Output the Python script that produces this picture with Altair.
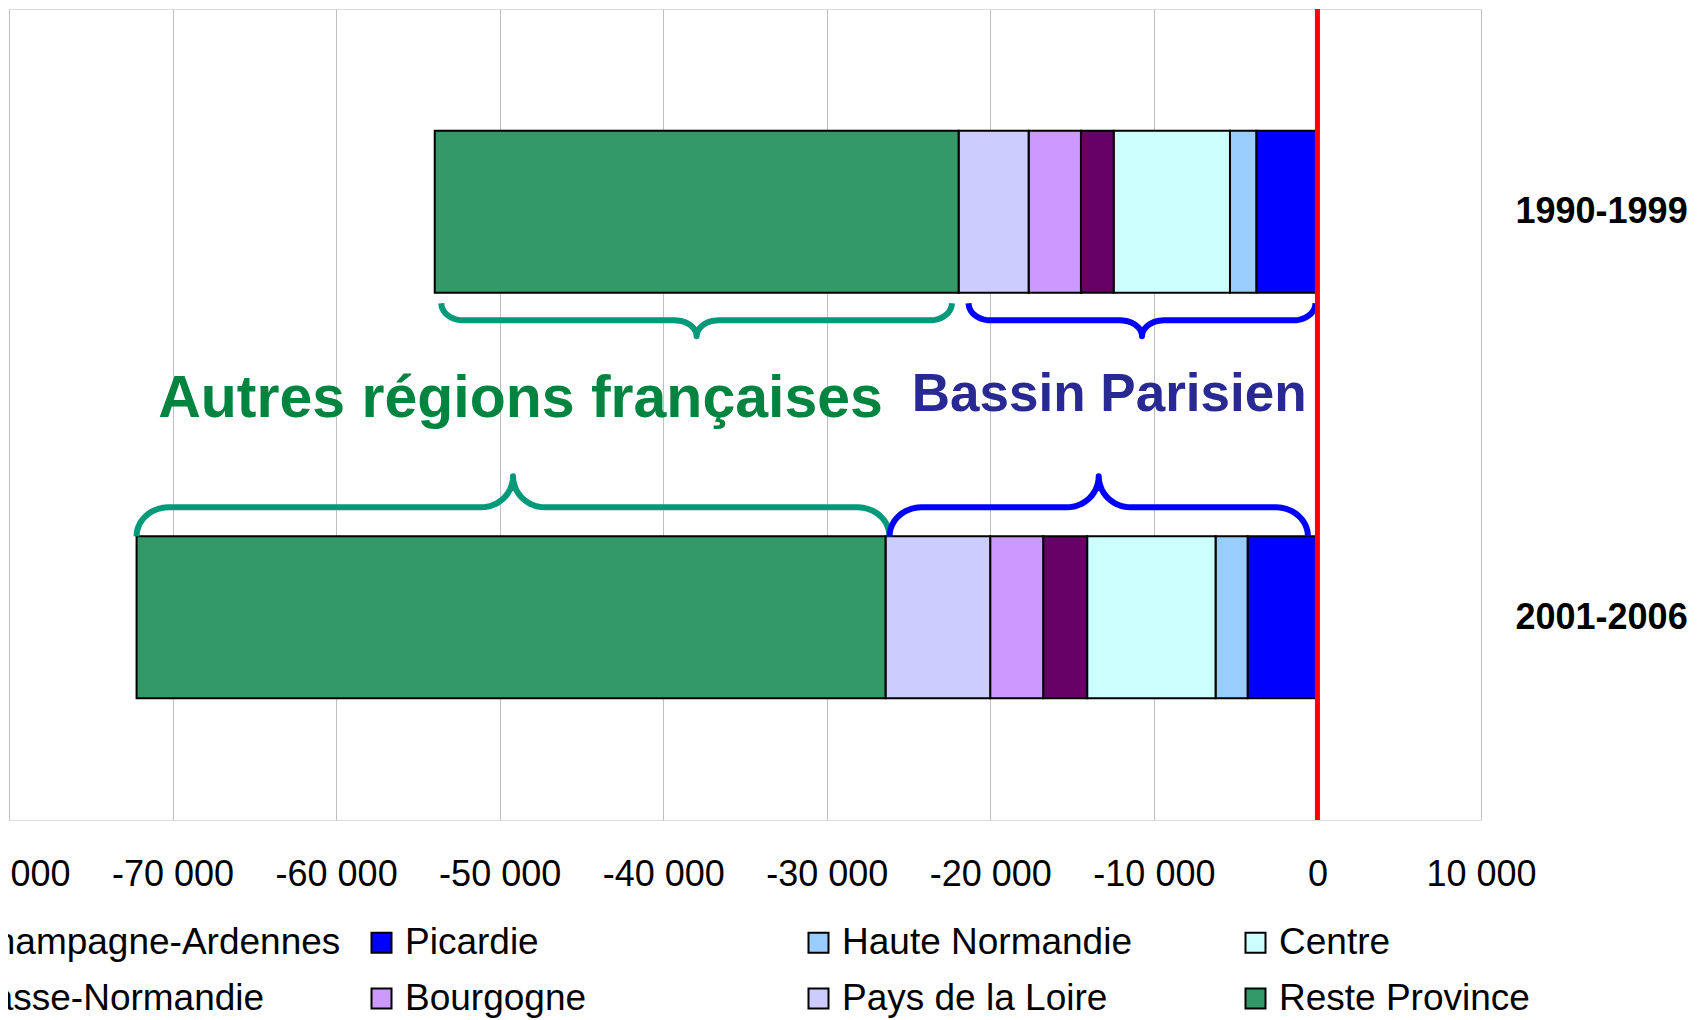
import math
import altair as alt
import pandas as pd

# ---------------- data ----------------
periods = ["1990-1999", "2001-2006"]
regions = ["Champagne-Ardennes", "Picardie", "Haute Normandie", "Centre",
           "Basse-Normandie", "Bourgogne", "Pays de la Loire", "Reste Province"]
region_colors = ["#FFFF99", "#0000FF", "#99CCFF", "#CCFFFF",
                 "#660066", "#CC99FF", "#CCCCFF", "#339966"]
values_1990_1999 = [0, -3740, -1610, -7110, -2000, -3200, -4280, -32030]
values_2001_2006 = [0, -4270, -1960, -7850, -2690, -3240, -6400, -45790]
x_ticks = [-80000, -70000, -60000, -50000, -40000, -30000, -20000, -10000, 0, 10000]
group_names = ["Autres régions françaises", "Bassin Parisien"]
group_members = [["Reste Province"], regions[:7]]
group_text_colors = ["#00843F", "#292994"]
group_brace_colors = ["#00997A", "#0000FF"]

# ---------------- layout / style ----------------
W, H = 1472, 811
X_MIN, X_MAX = -80000, 10000
PX = (X_MAX - X_MIN) / W          # data units per pixel
FONT = "Liberation Sans"

# brace geometry per period: (y_end, y_line, y_tip, corner_px, tip_px)
brace_geom = [(0.7258, 0.7677, 0.8072, 22, 22),
              (1.3004, 1.2289, 1.1524, 32, 32)]
# pixel insets (left, right) of brace ends relative to the spanned segment
brace_insets = {(0, 0): (6.6, -6.7), (0, 1): (10, -2),
                (1, 0): (0, 4), (1, 1): (4, -9.5)}
# label styling per group: baseline y, font size, horizontal pixel shift
label_y = [1.007, 0.992]
label_fs = [59, 53]
label_shift_px = [7.5, 10.5]

series = [values_1990_1999, values_2001_2006]

# ---------------- stacked bars ----------------
rows = []
spans = {}
for pi, (p, vals) in enumerate(zip(periods, series)):
    start = 0.0
    bounds = {}
    for r, v in zip(regions, vals):
        rows.append({"period": p, "region": r, "x": start, "x2": start + v,
                     "y": pi + 0.3, "y2": pi + 0.7})
        bounds[r] = (start + v, start)
        start += v
    for gi, members in enumerate(group_members):
        lo = min(bounds[m][0] for m in members)
        hi = max(bounds[m][1] for m in members)
        spans[(pi, gi)] = (lo, hi)
bars_df = pd.DataFrame(rows)


# ---------------- braces (derived from bar spans) ----------------
def brace_points(x0, x1, y_end, y_line, y_tip, c_px, t_px, n=14):
    c = c_px * PX
    t = t_px * PX
    xm = (x0 + x1) / 2
    ry = y_end - y_line
    ty = y_line - y_tip
    pts = []
    for k in range(n + 1):
        a = math.pi / 2 * k / n
        pts.append((x0 + c - c * math.cos(a), y_end - ry * math.sin(a)))
    for k in range(n + 1):
        a = math.pi / 2 * k / n
        pts.append((xm - t + t * math.sin(a), y_tip + ty * math.cos(a)))
    for k in range(n + 1):
        a = math.pi / 2 * k / n
        pts.append((xm + t - t * math.cos(a), y_tip + ty * math.sin(a)))
    for k in range(n + 1):
        a = math.pi / 2 * k / n
        pts.append((x1 - c + c * math.sin(a), y_line + ry * (1 - math.cos(a))))
    return pts


brace_rows = []
text_rows = []
for (pi, gi), (lo, hi) in spans.items():
    y_end, y_line, y_tip, c_px, t_px = brace_geom[pi]
    li, ri = brace_insets[(pi, gi)]
    x0 = lo + li * PX
    x1 = hi + ri * PX
    for i, (bx, by) in enumerate(brace_points(x0, x1, y_end, y_line, y_tip, c_px, t_px)):
        brace_rows.append({"brace": f"{pi}-{gi}", "i": i, "x": bx, "y": by,
                           "col": group_brace_colors[gi]})
    if pi == 1:
        text_rows.append({"label": group_names[gi],
                          "x": (x0 + x1) / 2 + label_shift_px[gi] * PX,
                          "y": label_y[gi], "col": group_text_colors[gi],
                          "fs": label_fs[gi]})
braces_df = pd.DataFrame(brace_rows)
text_df = pd.DataFrame(text_rows)

# ---------------- chart ----------------
x_scale = alt.Scale(domain=[X_MIN, X_MAX], nice=False, zero=False)
y_scale = alt.Scale(domain=[0, 2], reverse=True, nice=False, zero=False)

x_label_expr = ("(datum.value < 0 ? '-' : '') + "
                "replace(format(abs(datum.value), ','), ',', ' ')")
y_label_expr = f"datum.value < 1 ? '{periods[0]}' : '{periods[1]}'"

bars = alt.Chart(bars_df).mark_bar(stroke="black", strokeWidth=2).encode(
    x=alt.X("x:Q", scale=x_scale, title=None,
            axis=alt.Axis(values=x_ticks, labelExpr=x_label_expr, grid=True,
                          gridColor="#C0C0C0", gridWidth=1, domain=False,
                          ticks=False, tickSize=0, labelPadding=37,
                          labelFontSize=36, labelFont=FONT, labelColor="black",
                          labelFlush=False, labelOverlap=False, labelBound=False)),
    x2="x2:Q",
    y=alt.Y("y:Q", scale=y_scale, title=None,
            axis=alt.Axis(orient="right", values=[0.5, 1.5], labelExpr=y_label_expr,
                          grid=False, ticks=False, tickSize=0, domain=False,
                          labelPadding=34, labelFontSize=36, labelFont=FONT,
                          labelFontWeight="bold", labelColor="black",
                          labelAlign="left", labelBaseline="middle")),
    y2="y2:Q",
    color=alt.Color("region:N",
                    scale=alt.Scale(domain=regions, range=region_colors),
                    legend=alt.Legend(title=None, orient="none", legendX=-83,
                                      legendY=915, direction="horizontal",
                                      columns=4, gridAlign="all",
                                      columnPadding=22, rowPadding=18,
                                      symbolType="square", symbolSize=400,
                                      symbolStrokeColor="black",
                                      symbolStrokeWidth=2, symbolOpacity=1,
                                      labelFontSize=37, labelFont=FONT,
                                      labelColor="black", labelOffset=5,
                                      labelLimit=1000, padding=0)),
)

braces = alt.Chart(braces_df).mark_line(strokeWidth=6, strokeCap="butt",
                                        strokeJoin="round").encode(
    x=alt.X("x:Q"),
    y=alt.Y("y:Q"),
    detail="brace:N",
    order="i:Q",
    stroke=alt.Stroke("col:N", scale=None),
)

texts = alt.Chart(text_df).mark_text(font=FONT, fontWeight="bold", align="center",
                                     baseline="alphabetic").encode(
    x=alt.X("x:Q"),
    y=alt.Y("y:Q"),
    text="label:N",
    fill=alt.Fill("col:N", scale=None),
    size=alt.Size("fs:Q", scale=None),
)

zero_rule = alt.Chart(pd.DataFrame({"x": [0]})).mark_rule(
    color="#FF0000", strokeWidth=5).encode(x=alt.X("x:Q"))

chart = alt.layer(bars, braces, texts, zero_rule).properties(
    width=W, height=H,
    autosize=alt.AutoSizeParams(type="none"),
    padding={"left": 1, "top": 1, "right": 208, "bottom": 200},
    background="white",
).configure_view(stroke="#808080", strokeWidth=2).configure(font=FONT)

chart.save("out.html", embed_options={"renderer": "svg", "actions": False})
